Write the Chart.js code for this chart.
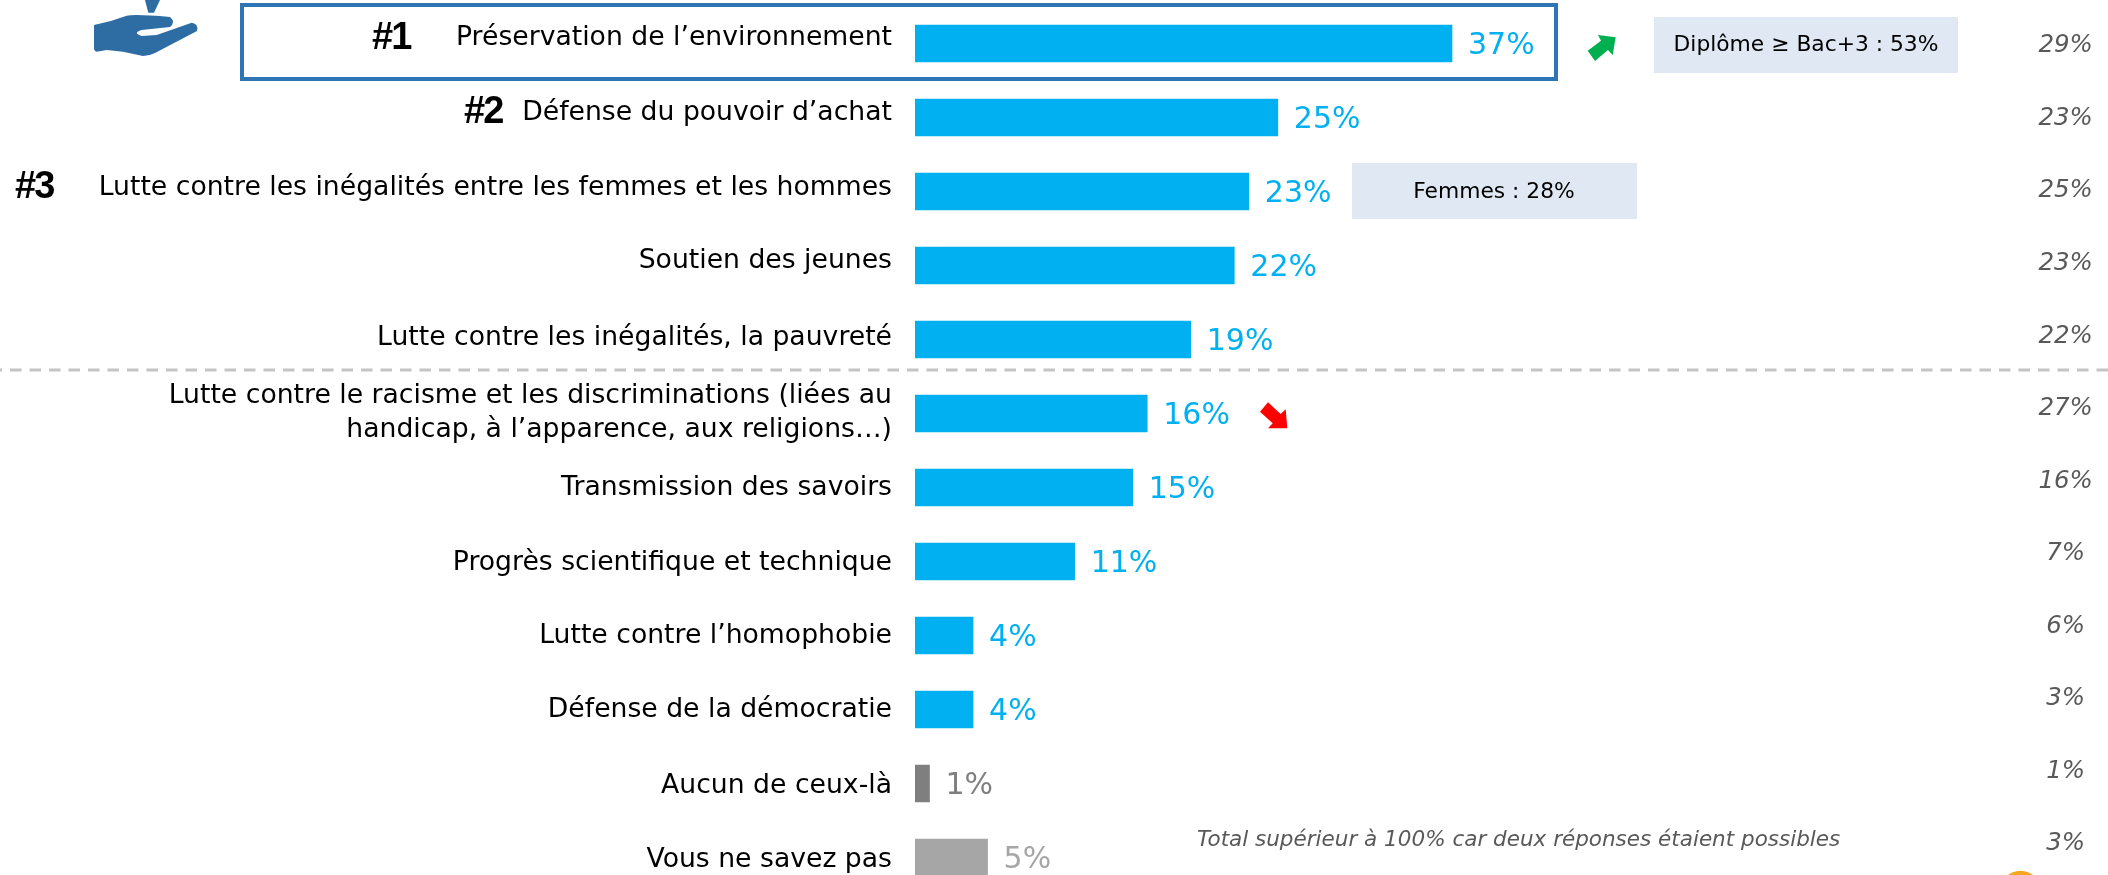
<!DOCTYPE html>
<html><head><meta charset="utf-8">
<style>html,body{margin:0;padding:0;background:#fff;width:2108px;height:875px;overflow:hidden}
#w{position:relative;width:2108px;height:900px}</style>
<script src="https://cdn.jsdelivr.net/npm/chart.js@4"></script></head>
<body><div id="w"><canvas id="c" width="2108" height="900"></canvas></div>
<script>
const categories = ["Préservation de l’environnement","Défense du pouvoir d’achat","Lutte contre les inégalités entre les femmes et les hommes","Soutien des jeunes","Lutte contre les inégalités, la pauvreté",["Lutte contre le racisme et les discriminations (liées au","handicap, à l’apparence, aux religions…)"],"Transmission des savoirs","Progrès scientifique et technique","Lutte contre l’homophobie","Défense de la démocratie","Aucun de ceux-là","Vous ne savez pas"];
const currentValues = [37,25,23,22,19,16,15,11,4,4,1,5];
const previousValues = [29,23,25,23,22,27,16,7,6,3,1,3];
const ranks = ["#1","#2","#3"];
const callouts = ["Diplôme ≥ Bac+3 : 53%","Femmes : 28%"];
const footnote = "Total supérieur à 100% car deux réponses étaient possibles";

const BLUE='#00B0F0';
const barColors = currentValues.map((_,i)=> i===10?'#7F7F7F': i===11?'#A6A6A6':BLUE);
const valueColors = currentValues.map((_,i)=> i===10?'#7F7F7F': i===11?'#A6A6A6':BLUE);
const labelShift = [-5,-4.5,-3.5,-4,-1.5,0,0.75,1.5,1,0.75,2.5,2.5];
const SANS='"DejaVu Sans"';

function poly(c,pts,color){c.fillStyle=color;c.beginPath();pts.forEach((p,i)=>i?c.lineTo(p[0],p[1]):c.moveTo(p[0],p[1]));c.closePath();c.fill();}

const decor={id:'decor',
 beforeDatasetsDraw(ch){const c=ch.ctx;c.save();
  c.fillStyle='#DFE8F3';c.fillRect(1654,17,304,56);c.fillRect(1352,163,285,56);
  c.strokeStyle='#2E75B6';c.lineWidth=4;c.strokeRect(242,5,1314,74);
  c.strokeStyle='#C4C4C4';c.lineWidth=3;c.setLineDash([11.5,8]);c.beginPath();c.moveTo(-9.5,370);c.lineTo(2108,370);c.stroke();c.setLineDash([]);
  c.restore();},
 afterDraw(ch){const c=ch.ctx,m=ch.getDatasetMeta(0),pm=ch.getDatasetMeta(1);c.save();
  c.textBaseline='middle';
  currentValues.forEach((v,i)=>{const b=m.data[i];c.font='30px '+SANS;c.fillStyle=valueColors[i];c.textAlign='left';c.fillText(v+'%',b.x+16,b.y+3);});
  previousValues.forEach((v,i)=>{const p=pm.data[i];c.font='italic 24.5px '+SANS;c.fillStyle='#595959';c.textAlign='center';c.fillText(v+'%',p.x,p.y);});
  c.fillStyle='#000';c.font='bold 38px "Liberation Sans"';c.textAlign='left';c.letterSpacing='-2px';
  c.fillText(ranks[0],372,39);c.fillText(ranks[1],464,113);c.fillText(ranks[2],15,188);c.letterSpacing='0px';
  c.font='21.8px '+SANS;c.textAlign='center';c.fillText(callouts[0],1806,45);c.fillText(callouts[1],1494,192);
  c.font='italic 21.5px '+SANS;c.fillStyle='#595959';c.textAlign='left';c.fillText(footnote,1197,840);
  poly(c,[[1615.7,37.3],[1598,35],[1601,40.7],[1587.7,50.7],[1595,61],[1608,50],[1612.7,55]],'#00B050');
  poly(c,[[1268,402.3],[1260,411.7],[1272.7,423.3],[1268,428.3],[1287.3,428.3],[1285.7,409.3],[1280.7,414]],'#FF0000');
  c.fillStyle='#2E6DA4';c.beginPath();c.moveTo(94,25);c.quadraticCurveTo(110,22,126.7,15.7);c.quadraticCurveTo(135,14,170,17);c.quadraticCurveTo(176,22,170,27);c.lineTo(141.7,30);c.quadraticCurveTo(132,33,141.7,36);c.lineTo(156.7,35);c.lineTo(176.7,28);c.lineTo(191.7,22.7);c.quadraticCurveTo(199,24,197,31);c.lineTo(155,53);c.quadraticCurveTo(149,56,143,56);c.lineTo(123,51.7);c.lineTo(106.7,50);c.lineTo(96.7,51.7);c.quadraticCurveTo(94,51,94,48);c.closePath();c.fill();
  poly(c,[[145,0],[160,0],[154,12.7],[148.3,12.7]],'#2E6DA4');
  c.fillStyle='#F5A623';c.beginPath();c.arc(2020.5,891,20.3,0,Math.PI*2);c.fill();
  c.restore();}};

new Chart(document.getElementById('c'),{
 type:'bar',
 data:{labels:categories,datasets:[
  {type:'bar',grouped:false,data:currentValues,backgroundColor:barColors,barThickness:37,xAxisID:'x',yAxisID:'y'},
  {type:'scatter',data:previousValues.map((_,i)=>({x:79.28,y:i})),pointRadius:0,xAxisID:'x',yAxisID:'yPrev'}]},
 plugins:[decor],
 options:{indexAxis:'y',responsive:false,animation:false,
  layout:{padding:{left:0,right:0,top:6.5,bottom:5.5}},
  plugins:{legend:{display:false},tooltip:{enabled:false}},
  scales:{
   x:{type:'linear',min:0,max:82.2,display:false,grid:{display:false}},
   yPrev:{type:'linear',display:false,offset:false,reverse:true,min:-0.544,max:11.696,grid:{display:false}},
   y:{type:'category',position:'left',grid:{display:false},border:{display:false},
     afterFit(s){s.width=915;s.paddingTop=0;s.paddingBottom=0;},
     ticks:{autoSkip:false,padding:15,color:'#000',
       callback(v,i){const l=categories[i],s=labelShift[i];if(Array.isArray(l))return l;return s<0?[l,'']:s>0?['',l]:l;},
       font(ctx){const i=ctx.index,s=labelShift[i];return {family:'"DejaVu Sans"',size:26.67,lineHeight:Array.isArray(categories[i])?'34px':(Math.abs(s)*2||30)+'px'};}}}
  }}});
</script></body></html>
